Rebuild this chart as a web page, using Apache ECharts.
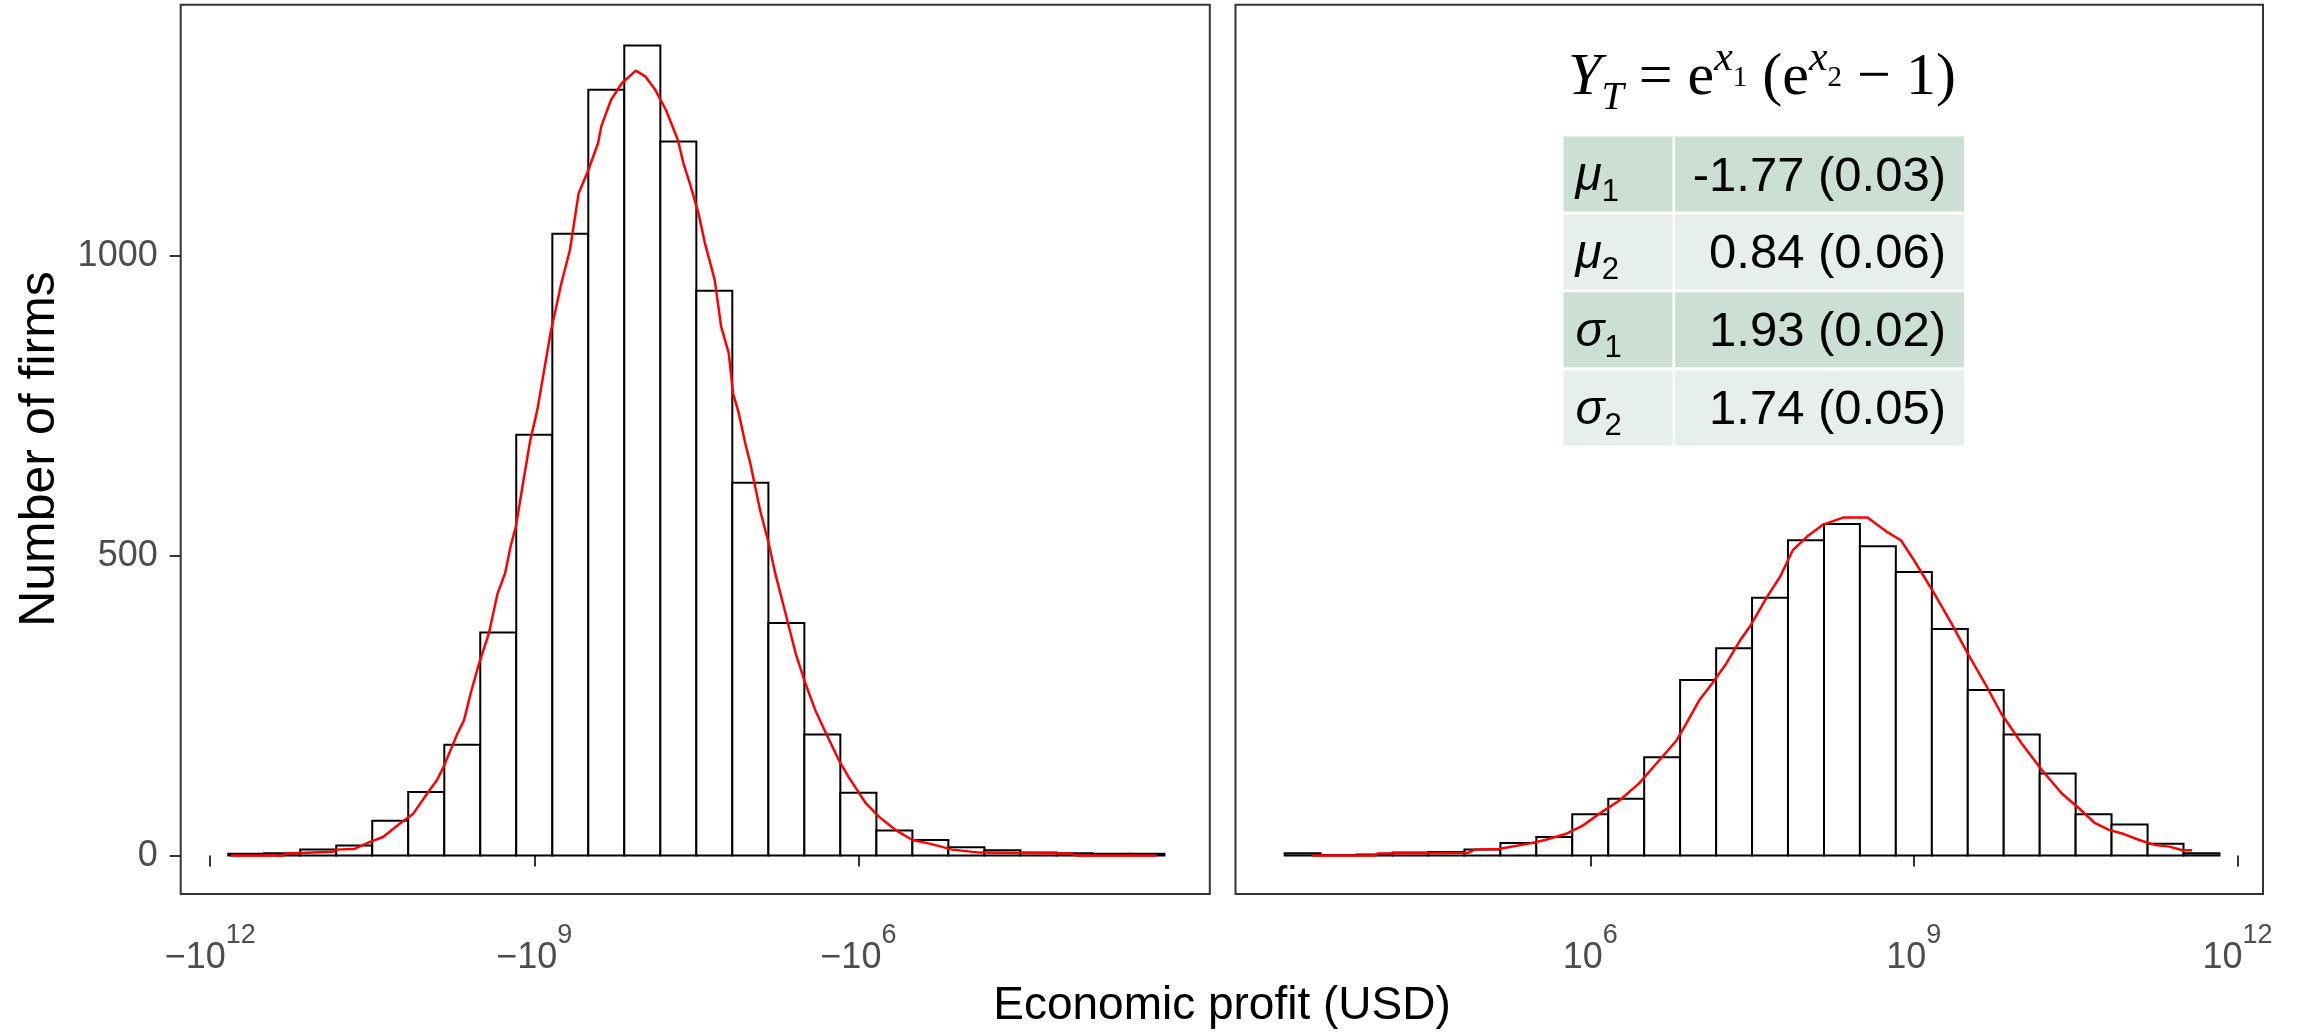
<!DOCTYPE html>
<html><head><meta charset="utf-8">
<script src="https://cdn.jsdelivr.net/npm/echarts@6/dist/echarts.min.js"></script>
<style>html,body{margin:0;padding:0;background:#fff}#c{width:2302px;height:1035px}</style>
</head><body><div id="c"></div><script>
// ---- data (x values are log10 of |profit in USD|) ----
const leftEdges = [-11.833, -11.5, -11.167, -10.833, -10.5, -10.167, -9.833, -9.5, -9.167, -8.833, -8.5, -8.167, -7.833, -7.5, -7.167, -6.833, -6.5, -6.167, -5.833, -5.5, -5.167, -4.833, -4.5, -4.167, -3.833, -3.5, -3.167];
const leftCounts = [3, 4, 10, 17, 58, 106, 185, 372, 702, 1037, 1277, 1351, 1191, 942, 622, 388, 202, 105, 42, 26, 14, 9, 5, 4, 3, 3];
const rightEdges = [3.167, 3.5, 3.833, 4.167, 4.5, 4.833, 5.167, 5.5, 5.833, 6.167, 6.5, 6.833, 7.167, 7.5, 7.833, 8.167, 8.5, 8.833, 9.167, 9.5, 9.833, 10.167, 10.5, 10.833, 11.167, 11.5, 11.833];
const rightCounts = [4, 1, 2, 5, 6, 10, 21, 31, 69, 95, 164, 293, 346, 430, 526, 553, 516, 473, 378, 276, 202, 137, 69, 52, 20, 4];
const leftDensX = [-11.81, -11.33, -11.29, -10.86, -10.84, -10.67, -10.52, -10.40, -10.24, -10.12, -9.99, -9.90, -9.84, -9.71, -9.65, -9.59, -9.52, -9.42, -9.34, -9.27, -9.22, -9.17, -9.11, -9.04, -8.97, -8.85, -8.75, -8.67, -8.59, -8.50, -8.41, -8.38, -8.29, -8.19, -8.06, -7.97, -7.88, -7.78, -7.67, -7.62, -7.56, -7.48, -7.42, -7.33, -7.27, -7.20, -7.16, -7.11, -7.05, -7.00, -6.91, -6.83, -6.77, -6.69, -6.58, -6.49, -6.40, -6.30, -6.18, -6.09, -5.93, -5.81, -5.65, -5.50, -5.34, -5.13, -4.88, -4.04, -3.98, -3.24];
const leftDensY = [0, 0, 3.6, 6.4, 10, 11, 23, 31, 54, 70, 104, 126, 148, 204, 226, 270, 315, 371, 437, 471, 515, 549, 615, 690, 745, 871, 954, 1010, 1104, 1143, 1188, 1216, 1260, 1288, 1309, 1299, 1277, 1243, 1193, 1155, 1121, 1071, 1021, 960, 882, 838, 771, 740, 690, 654, 576, 521, 471, 415, 337, 287, 243, 204, 159, 131, 87, 65, 42, 26, 20, 10, 5, 3.6, 0, 0];
const rightDensX = [3.42, 4.00, 4.03, 4.87, 4.93, 5.15, 5.43, 5.58, 5.77, 5.93, 6.11, 6.27, 6.45, 6.64, 6.80, 6.89, 7.01, 7.13, 7.26, 7.39, 7.48, 7.64, 7.76, 7.88, 8.01, 8.16, 8.35, 8.57, 8.75, 8.88, 9.00, 9.19, 9.35, 9.50, 9.66, 9.81, 10.00, 10.19, 10.37, 10.53, 10.68, 10.81, 10.93, 11.09, 11.24, 11.37, 11.49, 11.58];
const rightDensY = [0, 0, 3.6, 4.8, 10, 11, 20, 26, 36, 50, 73, 92, 120, 159, 192, 220, 259, 287, 320, 359, 382, 432, 465, 510, 532, 552, 564, 564, 540, 526, 493, 437, 387, 337, 287, 237, 187, 142, 104, 79, 54, 43, 37, 26, 17.5, 15, 9, 9];
const yTicks = [0, 500, 1000];
const leftXTicks = [-12, -9, -6];
const rightXTicks = [6, 9, 12];
const paramSymbols = ['μ', 'μ', 'σ', 'σ'];
const paramIndex = ['1', '2', '1', '2'];
const paramValues = ['-1.77 (0.03)', '0.84 (0.06)', '1.93 (0.02)', '1.74 (0.05)'];
const xTitle = 'Economic profit (USD)';
const yTitle = 'Number of firms';

// ---- helpers ----
function bins(edges, counts) { return counts.map((c, i) => [edges[i], edges[i + 1], c]); }
function pairs(xs, ys) { return xs.map((x, i) => [x, ys[i]]); }
const SANS = 'Liberation Sans';
const TICK_GREY = '#4D4D4D';
const renderBar = function (params, api) {
  const p0 = api.coord([api.value(0), 0]);
  const p1 = api.coord([api.value(1), api.value(2)]);
  return { type: 'rect', shape: { x: p0[0], y: p1[1], width: p1[0] - p0[0], height: p0[1] - p1[1] },
           style: { fill: '#ffffff', stroke: '#000000', lineWidth: 2 } };
};
const YMIN = -64, YMAX = 1419;
const gridCommon = { top: 4.7, bottom: 1035 - 894, show: true, borderColor: '#333333', borderWidth: 2, backgroundColor: 'transparent', containLabel: false };
const xLabelRich = {
  m: { fontFamily: SANS, fontSize: 36, color: TICK_GREY, lineHeight: 54, verticalAlign: 'bottom' },
  s: { fontFamily: SANS, fontSize: 27, color: TICK_GREY, lineHeight: 30, verticalAlign: 'top' }
};
function xAxisDef(idx, min, max, ticks, neg) {
  return {
    type: 'value', gridIndex: idx, min: min, max: max,
    axisLine: { show: false }, splitLine: { show: false },
    axisTick: { show: true, customValues: ticks, length: 11, lineStyle: { color: '#333333', width: 2 } },
    axisLabel: { show: true, customValues: ticks, margin: 28, rich: xLabelRich,
      formatter: v => (neg ? '{m|\u221210}{s|' + Math.round(-v) + '}' : '{m|10}{s|' + Math.round(v) + '}') }
  };
}
function yAxisDef(idx, showLabels) {
  return {
    type: 'value', gridIndex: idx, min: YMIN, max: YMAX,
    axisLine: { show: false }, splitLine: { show: false },
    axisTick: { show: showLabels, customValues: yTicks, length: 11, lineStyle: { color: '#333333', width: 2 } },
    axisLabel: { show: showLabels, customValues: yTicks, margin: 23, fontFamily: SANS, fontSize: 36, color: TICK_GREY,
      formatter: v => String(Math.round(v)) }
  };
}

// ---- table graphic ----
const tblX = 1563.5, col1W = 109, colGap = 2.5, col2W = 289, rowTop = 136.5, rowH = 75, rowPitch = 77.9;
const rowColors = ['#CBDFD5', '#E6EFEB', '#CBDFD5', '#E6EFEB'];
const tableEls = [];
paramValues.forEach((val, i) => {
  const y = rowTop + i * rowPitch;
  tableEls.push({ type: 'rect', shape: { x: tblX, y: y, width: col1W, height: rowH }, style: { fill: rowColors[i] } });
  tableEls.push({ type: 'rect', shape: { x: tblX + col1W + colGap, y: y, width: col2W, height: rowH }, style: { fill: rowColors[i] } });
  tableEls.push({ type: 'text', x: tblX + 12, y: y + rowH / 2 + 3,
    style: { text: '{g|' + paramSymbols[i] + '}{d|' + paramIndex[i] + '}', textAlign: 'left', textVerticalAlign: 'middle',
      rich: { g: { fontFamily: SANS, fontStyle: 'italic', fontSize: 48, lineHeight: 62, verticalAlign: 'middle', fill: '#000' },
              d: { fontFamily: SANS, fontSize: 31, lineHeight: 31, verticalAlign: 'bottom', fill: '#000' } } } });
  tableEls.push({ type: 'text', x: tblX + col1W + colGap + col2W - 18, y: y + rowH / 2 + 3,
    style: { text: val, textAlign: 'right', textVerticalAlign: 'middle', fontFamily: SANS, fontSize: 49, fill: '#000' } });
});
const SERIF = 'Liberation Serif';
const formula = { type: 'text', x: 1762, y: 78,
  style: { textAlign: 'center', textVerticalAlign: 'middle',
    text: '{i|Y}{it|T}{n| = e}{sx|x}{sd|1}{n| (e}{sx|x}{sd|2}{n| \u2212 1)}',
    rich: {
      n: { fontFamily: SERIF, fontSize: 60, lineHeight: 80, verticalAlign: 'middle', fill: '#000' },
      i: { fontFamily: SERIF, fontStyle: 'italic', fontSize: 60, lineHeight: 80, verticalAlign: 'middle', fill: '#000' },
      it: { fontFamily: SERIF, fontStyle: 'italic', fontSize: 40, lineHeight: 40, verticalAlign: 'bottom', fill: '#000' },
      sx: { fontFamily: SERIF, fontStyle: 'italic', fontSize: 42, lineHeight: 42, verticalAlign: 'top', fill: '#000' },
      sd: { fontFamily: SERIF, fontSize: 29, lineHeight: 29, verticalAlign: 'middle', fill: '#000' }
    } } };

const chart = echarts.init(document.getElementById('c'), null, { renderer: 'canvas' });
chart.setOption({
  animation: false,
  backgroundColor: '#ffffff',
  grid: [
    Object.assign({ left: 180.7, right: 2302 - 1209.8 }, gridCommon),
    Object.assign({ left: 1235.5, right: 2302 - 2263 }, gridCommon)
  ],
  xAxis: [ xAxisDef(0, -12.273, -2.747, leftXTicks, true), xAxisDef(1, 2.711, 12.237, rightXTicks, false) ],
  yAxis: [ yAxisDef(0, true), yAxisDef(1, false) ],
  series: [
    { type: 'custom', name: 'loss', xAxisIndex: 0, yAxisIndex: 0, renderItem: renderBar, encode: { x: [0, 1], y: 2 }, data: bins(leftEdges, leftCounts), z: 2 },
    { type: 'custom', name: 'gain', xAxisIndex: 1, yAxisIndex: 1, renderItem: renderBar, encode: { x: [0, 1], y: 2 }, data: bins(rightEdges, rightCounts), z: 2 },
    { type: 'line', xAxisIndex: 0, yAxisIndex: 0, data: pairs(leftDensX, leftDensY), showSymbol: false, symbol: 'none', smooth: false, lineStyle: { color: '#FF0000', width: 2.5 }, z: 3 },
    { type: 'line', xAxisIndex: 1, yAxisIndex: 1, data: pairs(rightDensX, rightDensY), showSymbol: false, symbol: 'none', smooth: false, lineStyle: { color: '#FF0000', width: 2.5 }, z: 3 }
  ],
  graphic: [
    { type: 'text', x: 1222, y: 1006, style: { text: xTitle, textAlign: 'center', textVerticalAlign: 'middle', fontFamily: SANS, fontSize: 46, fill: '#000' } },
    { type: 'text', x: 40, y: 449, rotation: Math.PI / 2, style: { text: yTitle, textAlign: 'center', textVerticalAlign: 'middle', fontFamily: SANS, fontSize: 50, fill: '#000' } },
    formula
  ].concat(tableEls)
});
</script></body></html>
